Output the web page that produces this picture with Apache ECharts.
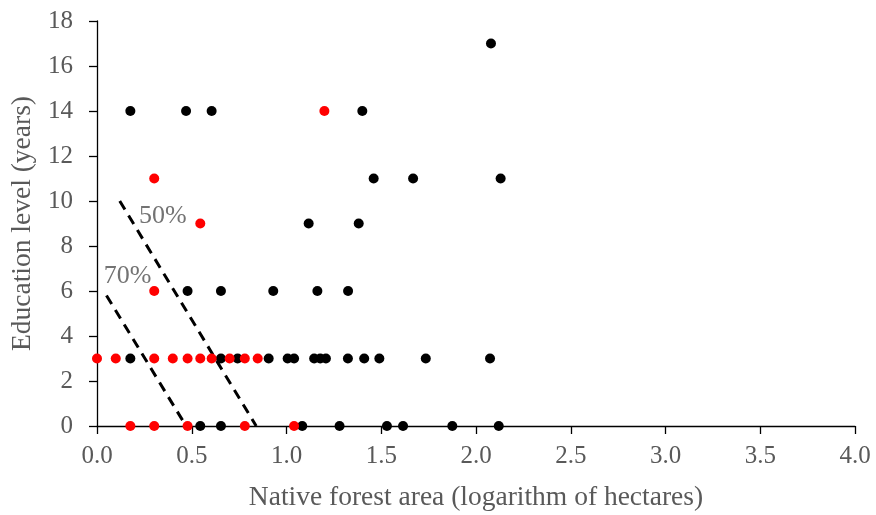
<!DOCTYPE html>
<html><head><meta charset="utf-8">
<script src="https://cdn.jsdelivr.net/npm/echarts@6/dist/echarts.min.js"></script>
<style>html,body{margin:0;padding:0;background:#fff}#c{width:876px;height:515px}</style>
</head><body><div id="c"></div>
<script>
// Black points: [log10 native forest area, education years]
const blackPoints = [
  [0.176,14],[0.47,14],[0.605,14],[1.40,14],
  [2.079,17],
  [1.46,11],[1.668,11],[2.13,11],
  [1.117,9],[1.381,9],
  [0.478,6],[0.654,6],[0.93,6],[1.163,6],[1.325,6],
  [0.176,3],[0.654,3],[0.742,3],[0.906,3],[1.006,3],[1.04,3],[1.146,3],[1.178,3],[1.208,3],[1.324,3],[1.41,3],[1.49,3],[1.735,3],[2.074,3],
  [0.545,0],[0.654,0],[1.083,0],[1.28,0],[1.53,0],[1.615,0],[1.875,0],[2.12,0]
];
const redPoints = [
  [1.20,14],[0.302,11],[0.545,9],[0.302,6],
  [0.0,3],[0.099,3],[0.302,3],[0.40,3],[0.478,3],[0.545,3],[0.605,3],[0.70,3],[0.78,3],[0.848,3],
  [0.176,0],[0.302,0],[0.478,0],[0.78,0],[1.04,0]
];
const line50 = [[0.12,10],[0.84,0]];
const line70 = [[0.05,5.8],[0.47,0]];
const annotations = [[0.347,9.34,'50%'],[0.162,6.67,'70%']];
const xTicks = {min:0,max:4,interval:0.5};
const yTicks = {min:0,max:18,interval:2};
const xName = 'Native forest area (logarithm of hectares)';
const yName = 'Education level (years)';

const font = 'Liberation Serif';
const gray = '#595959';
const chart = echarts.init(document.getElementById('c'));
const axisCommon = {
  nameLocation:'middle',
  nameTextStyle:{fontFamily:font,fontSize:27.5,color:gray},
  axisLine:{show:true,onZero:false,lineStyle:{color:'#000',width:1.3}},
  axisTick:{show:true,inside:false,length:8,lineStyle:{color:'#000',width:1.3}},
  splitLine:{show:false},
  axisLabel:{fontFamily:font,fontSize:25,color:gray}
};
chart.setOption({
  animation:false,
  grid:{left:97,right:21,top:21,bottom:89,containLabel:false,outerBoundsMode:'none'},
  xAxis:Object.assign({},axisCommon,{type:'value',min:xTicks.min,max:xTicks.max,interval:xTicks.interval,name:xName,nameGap:58,
    axisLabel:Object.assign({},axisCommon.axisLabel,{margin:18,formatter:v=>v.toFixed(1)})}),
  yAxis:Object.assign({},axisCommon,{type:'value',min:yTicks.min,max:yTicks.max,interval:yTicks.interval,name:yName,nameGap:60,
    axisLabel:Object.assign({},axisCommon.axisLabel,{margin:24})}),
  series:[
    {type:'line',data:line50,symbol:'none',lineStyle:{color:'#000',width:3,type:[10,7]},z:1},
    {type:'line',data:line70,symbol:'none',lineStyle:{color:'#000',width:3,type:[10,7]},z:1},
    {type:'scatter',data:blackPoints,symbolSize:10,itemStyle:{color:'#000',opacity:1},z:2},
    {type:'scatter',data:redPoints,symbolSize:10,itemStyle:{color:'#ff0000',opacity:1},z:3},
    {type:'scatter',data:annotations.map(a=>({value:[a[0],a[1]],label:{formatter:a[2]}})),symbolSize:0,z:4,
      label:{show:true,position:'inside',fontFamily:font,fontSize:26,color:'#505050'}}
  ]
});
</script></body></html>
